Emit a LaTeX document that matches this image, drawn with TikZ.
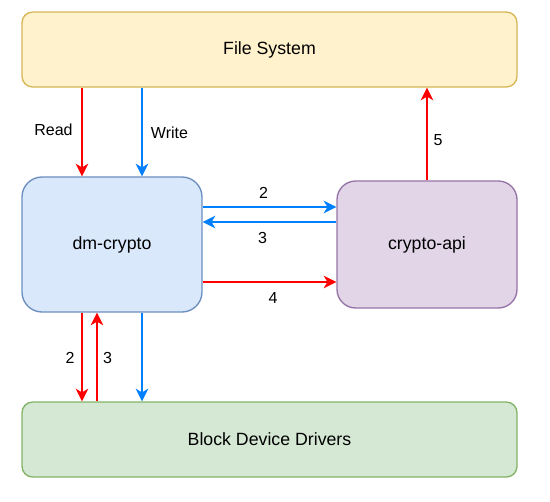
\documentclass[tikz,border=0pt]{standalone}
\usepackage{fontspec}
\setmainfont{Liberation Sans}
\usetikzlibrary{arrows.meta}
\definecolor{fsfill}{HTML}{FFF2CC}\definecolor{fsdraw}{HTML}{D6B656}
\definecolor{dmfill}{HTML}{DAE8FC}\definecolor{dmdraw}{HTML}{6C8EBF}
\definecolor{cafill}{HTML}{E1D5E7}\definecolor{cadraw}{HTML}{9673A6}
\definecolor{bdfill}{HTML}{D5E8D4}\definecolor{bddraw}{HTML}{82B366}
\definecolor{arrred}{HTML}{FF0000}\definecolor{arrblue}{HTML}{007FFF}
\begin{document}
\begin{tikzpicture}[x=0.75pt,y=-0.75pt,
  box/.style={draw,line width=1pt,inner sep=0pt,font=\fontsize{13.3pt}{16pt}\selectfont},
  lbl/.style={inner sep=0pt,font=\fontsize{12pt}{14pt}\selectfont},
  conn/.style={line width=1pt,-{Stealth[length=9.5pt,width=9.5pt,inset=2.8pt]}},
  redc/.style={conn,draw=arrred,fill=arrred},
  bluec/.style={conn,draw=arrblue,fill=arrblue}]
\useasboundingbox (0,0) rectangle (550,501);
\node[box,fill=fsfill,draw=fsdraw,rounded corners=8pt,minimum width=495*0.75pt,minimum height=75*0.75pt] (fs) at (269.5,49.5) {File System};
\node[box,fill=dmfill,draw=dmdraw,rounded corners=15pt,minimum width=180*0.75pt,minimum height=135*0.75pt] (dm) at (112,244.5) {dm-crypto};
\node[box,fill=cafill,draw=cadraw,rounded corners=14pt,minimum width=180*0.75pt,minimum height=127*0.75pt] (ca) at (427,244.5) {crypto-api};
\node[box,fill=bdfill,draw=bddraw,rounded corners=8pt,minimum width=495*0.75pt,minimum height=75*0.75pt] (bd) at (269.5,439.5) {Block Device Drivers};
% connectors
\draw[redc] (fs.south -| 82,0) -- (dm.north -| 82,0);
\draw[bluec] (fs.south -| 142,0) -- (dm.north -| 142,0);
\draw[bluec] (dm.east |- 0,207) -- (ca.west |- 0,207);
\draw[bluec] (ca.west |- 0,222) -- (dm.east |- 0,222);
\draw[redc] (dm.east |- 0,282) -- (ca.west |- 0,282);
\draw[redc] (ca.north) -- (fs.south -| ca.north);
\draw[redc] (dm.south -| 82,0) -- (bd.north -| 82,0);
\draw[redc] (bd.north -| 97,0) -- (dm.south -| 97,0);
\draw[bluec] (dm.south -| 142,0) -- (bd.north -| 142,0);
% labels
\node[lbl] (lread) at (53.5,130) {Read};
\node[lbl] (lwrite) at (169.5,132.5) {Write};
\node[lbl] (l2a) at (263.5,193) {2};
\node[lbl] (l3a) at (262.5,238) {3};
\node[lbl] (l4) at (273,298) {4};
\node[lbl] (l5) at (438,140) {5};
\node[lbl] (l2b) at (70,357.5) {2};
\node[lbl] (l3b) at (107.5,357.5) {3};
\end{tikzpicture}
\end{document}
